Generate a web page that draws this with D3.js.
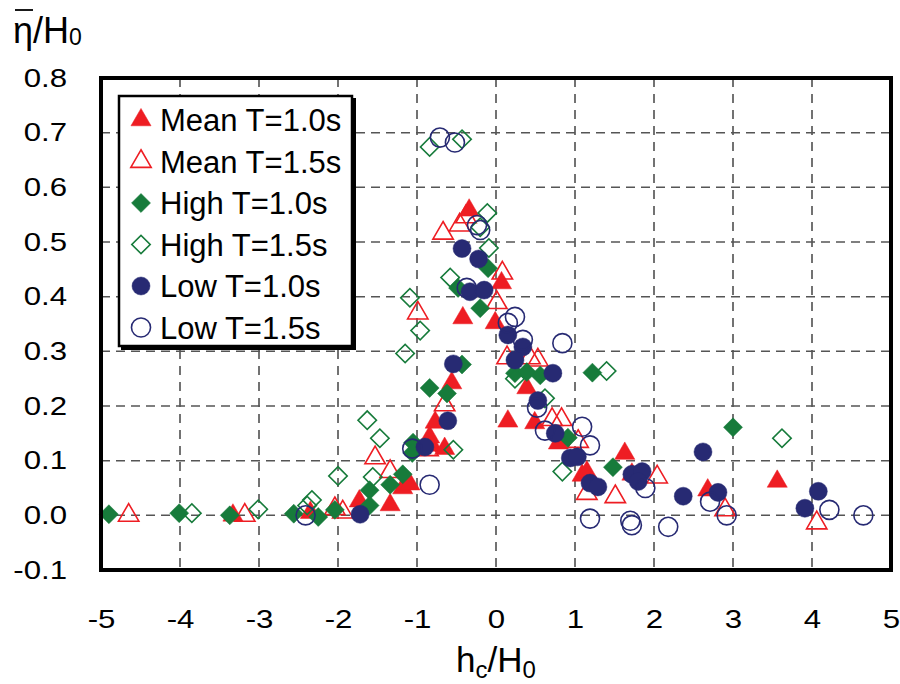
<!DOCTYPE html>
<html>
<head>
<meta charset="utf-8">
<script src="https://cdn.jsdelivr.net/npm/d3@7"></script>
<style>
  body { margin: 0; background: #fff; }
  text { font-family: "Liberation Sans", Arial, sans-serif; }
</style>
</head>
<body>
<div id="chart"></div>
<script>
// chart data: [hc/H0, eta/H0]
var meanT10 = [[-3.33, 0.0], [-2.35, 0.005], [-1.73, 0.026], [-1.34, 0.019], [-1.18, 0.05],
  [-1.09, 0.057], [-0.81, 0.128], [-0.86, 0.134], [-0.77, 0.17], [-0.84, 0.143], [-0.65, 0.122],
  [-0.56, 0.242], [-0.42, 0.361], [-0.34, 0.558], [0.07, 0.425], [-0.01, 0.352], [0.15, 0.172],
  [0.39, 0.233], [0.49, 0.169], [0.79, 0.132], [1.09, 0.073], [1.15, 0.079], [1.63, 0.113],
  [1.72, 0.075], [2.68, 0.046], [3.56, 0.062]];
var meanT15 = [[-4.65, 0.0], [-3.18, 0.0], [-2.04, 0.012], [-1.94, 0.006], [-1.53, 0.105],
  [-1.34, 0.08], [-0.99, 0.37], [-0.86, 0.12], [-0.65, 0.202], [-0.67, 0.516], [-0.46, 0.531],
  [-0.38, 0.546], [0.08, 0.443], [0.01, 0.389], [0.14, 0.288], [0.43, 0.288], [0.53, 0.284],
  [0.71, 0.175], [0.83, 0.175], [1.04, 0.135], [1.15, 0.04], [1.51, 0.034], [2.04, 0.07],
  [2.9, 0.01], [4.06, -0.014]];
var highT10 = [[-4.9, 0.002], [-4.01, 0.004], [-3.37, 0.0], [-2.56, 0.003], [-2.25, -0.003],
  [-2.04, 0.01], [-1.6, 0.046], [-1.6, 0.018], [-1.34, 0.056], [-1.18, 0.075], [-1.05, 0.133],
  [-1.06, 0.114], [-0.84, 0.233], [-0.62, 0.223], [-0.43, 0.276], [-0.48, 0.416], [-0.2, 0.379],
  [-0.1, 0.452], [0.24, 0.26], [0.39, 0.262], [0.56, 0.256], [0.91, 0.142], [1.22, 0.261],
  [1.48, 0.088], [3.0, 0.161]];
var highT15 = [[-3.85, 0.004], [-3.01, 0.011], [-2.33, 0.028], [-2.39, 0.018], [-2.0, 0.072],
  [-1.63, 0.174], [-1.47, 0.141], [-1.56, 0.07], [-1.15, 0.296], [-1.09, 0.398], [-0.96, 0.338],
  [-0.54, 0.12], [-0.58, 0.435], [-0.84, 0.674], [-0.43, 0.688], [-0.11, 0.553], [-0.09, 0.489],
  [-0.2, 0.527], [0.24, 0.25], [0.62, 0.214], [0.84, 0.08], [1.4, 0.264], [3.62, 0.141]];
var lowT10 = [[-1.72, 0.002], [-0.9, 0.125], [-0.61, 0.173], [-0.54, 0.277], [-0.43, 0.488],
  [-0.22, 0.469], [-0.33, 0.409], [-0.15, 0.412], [0.15, 0.33], [0.34, 0.308], [0.24, 0.284],
  [0.72, 0.26], [0.53, 0.21], [0.75, 0.15], [0.94, 0.105], [1.03, 0.107], [1.19, 0.059],
  [1.29, 0.052], [1.72, 0.075], [1.85, 0.08], [1.8, 0.062], [2.37, 0.035], [2.62, 0.116],
  [2.81, 0.042], [3.91, 0.013], [4.08, 0.044]];
var lowT15 = [[-2.41, 0.0], [-1.06, 0.122], [-0.84, 0.056], [-0.71, 0.691], [-0.52, 0.682],
  [-0.37, 0.416], [-0.24, 0.531], [-0.2, 0.522], [0.15, 0.352], [0.24, 0.363], [0.34, 0.321],
  [0.84, 0.315], [0.52, 0.197], [0.62, 0.155], [1.09, 0.162], [1.19, 0.128], [1.19, -0.006],
  [1.7, -0.01], [1.72, -0.018], [1.89, 0.05], [2.18, -0.021], [2.71, 0.025], [2.92, 0.0],
  [4.22, 0.01], [4.65, 0.0]];

var seriesNames = ["Mean T=1.0s", "Mean T=1.5s", "High T=1.0s", "High T=1.5s", "Low T=1.0s", "Low T=1.5s"];
var xTicks = [-5, -4, -3, -2, -1, 0, 1, 2, 3, 4, 5];
var yTicks = [-0.1, 0.0, 0.1, 0.2, 0.3, 0.4, 0.5, 0.6, 0.7, 0.8];

var red = "#ee1d23", green = "#177b3b", navy = "#272a73";
var series = [
  {name: seriesNames[0], data: meanT10, shape: "tri", color: red, filled: true},
  {name: seriesNames[1], data: meanT15, shape: "tri", color: red, filled: false},
  {name: seriesNames[2], data: highT10, shape: "dia", color: green, filled: true},
  {name: seriesNames[3], data: highT15, shape: "dia", color: green, filled: false},
  {name: seriesNames[4], data: lowT10, shape: "cir", color: navy, filled: true},
  {name: seriesNames[5], data: lowT15, shape: "cir", color: navy, filled: false}
];

var svgWidth = 900, svgHeight = 684;
var plot = {left: 101, right: 891, top: 78, bottom: 570};
var stretch = 1.2; // tick labels in the figure are drawn wide

var svg = d3.select("#chart").append("svg")
  .attr("width", svgWidth)
  .attr("height", svgHeight);

var x = d3.scaleLinear().domain([-5, 5]).range([plot.left, plot.right]);
var y = d3.scaleLinear().domain([-0.1, 0.8]).range([plot.bottom, plot.top]);

// dashed grid
svg.append("g").selectAll("line.vg")
  .data(xTicks.slice(1, -1)).enter().append("line")
  .attr("x1", d => x(d)).attr("x2", d => x(d))
  .attr("y1", plot.top).attr("y2", plot.bottom)
  .attr("stroke", "#444").attr("stroke-width", 1.5)
  .attr("stroke-dasharray", "9,7");
svg.append("g").selectAll("line.hg")
  .data(yTicks.slice(1, -1)).enter().append("line")
  .attr("x1", plot.left).attr("x2", plot.right)
  .attr("y1", d => y(d)).attr("y2", d => y(d))
  .attr("stroke", "#555").attr("stroke-width", 1.5)
  .attr("stroke-dasharray", "9,6");

// symbol generators
function symbolPath(shape, filled) {
  if (shape === "tri") return d3.symbol().type(d3.symbolTriangle).size(filled ? 175 : 180)();
  if (shape === "dia") return d3.symbol().type(d3.symbolSquare).size(filled ? 180 : 170)();
  return d3.symbol().type(d3.symbolCircle).size(filled ? 255 : 285)();
}

function drawMarker(sel, s) {
  sel.attr("d", symbolPath(s.shape, s.filled))
    .attr("fill", s.filled ? s.color : "none")
    .attr("stroke", s.color)
    .attr("stroke-width", s.filled ? 0.5 : 1.6);
}

var pointsGroup = svg.append("g");
series.forEach(function(s) {
  pointsGroup.append("g").selectAll("path")
    .data(s.data).enter().append("path")
    .attr("transform", d => `translate(${x(d[0])},${y(d[1])})` + (s.shape === "dia" ? " rotate(45)" : ""))
    .call(drawMarker, s);
});

// frame
svg.append("rect")
  .attr("x", plot.left).attr("y", plot.top)
  .attr("width", plot.right - plot.left).attr("height", plot.bottom - plot.top)
  .attr("fill", "none").attr("stroke", "#000").attr("stroke-width", 4);

// axis labels (plain hyphen for negatives)
var xAxis = svg.append("g")
  .attr("transform", `translate(0, ${plot.bottom})`)
  .call(d3.axisBottom(x).tickValues(xTicks).tickSize(0).tickPadding(40).tickFormat(d => String(d)));
xAxis.select(".domain").remove();
xAxis.selectAll("text").attr("font-size", 26).attr("fill", "#000")
  .attr("font-family", "Liberation Sans, Arial, sans-serif")
  .attr("transform", `scale(${stretch},1)`);

var yAxis = svg.append("g")
  .attr("transform", `translate(${plot.left}, 0)`)
  .call(d3.axisLeft(y).tickValues(yTicks).tickSize(0).tickPadding(34).tickFormat(d => d.toFixed(1)));
yAxis.select(".domain").remove();
yAxis.selectAll("text").attr("font-size", 26).attr("fill", "#000")
  .attr("font-family", "Liberation Sans, Arial, sans-serif")
  .attr("x", -34 / stretch)
  .attr("transform", `scale(${stretch},1)`);

// axis titles
var xTitle = svg.append("text")
  .attr("x", (plot.left + plot.right) / 2)
  .attr("y", 672)
  .attr("text-anchor", "middle")
  .attr("font-size", 35);
xTitle.append("tspan").text("h");
xTitle.append("tspan").attr("font-size", 24).attr("dy", 6).text("c");
xTitle.append("tspan").attr("dy", -6).text("/H");
xTitle.append("tspan").attr("font-size", 24).attr("dy", 6).text("0");

var yTitle = svg.append("text")
  .attr("x", 13)
  .attr("y", 43)
  .attr("font-size", 36);
yTitle.append("tspan").text("η");
yTitle.append("tspan").text("/H");
yTitle.append("tspan").attr("font-size", 23).attr("dy", 2).text("0");
svg.append("line")
  .attr("x1", 15).attr("x2", 33).attr("y1", 10).attr("y2", 10)
  .attr("stroke", "#000").attr("stroke-width", 1.8);

// legend
var legend = svg.append("g");
legend.append("rect")
  .attr("x", 121).attr("y", 98).attr("width", 235).attr("height", 252)
  .attr("fill", "#000");
legend.append("rect")
  .attr("x", 119).attr("y", 96).attr("width", 233).attr("height", 250)
  .attr("fill", "#fff").attr("stroke", "#000").attr("stroke-width", 2.5);

var legendRows = legend.selectAll("g.row")
  .data(series).enter().append("g")
  .attr("transform", (d, i) => `translate(141, ${120 + i * 41.5})`);
legendRows.append("path")
  .attr("transform", d => d.shape === "dia" ? "rotate(45)" : null)
  .each(function(d) { d3.select(this).call(drawMarker, d); });
legendRows.append("text")
  .attr("x", 19)
  .attr("y", 11)
  .attr("font-size", 31)
  .text(d => d.name);
</script>
</body>
</html>
